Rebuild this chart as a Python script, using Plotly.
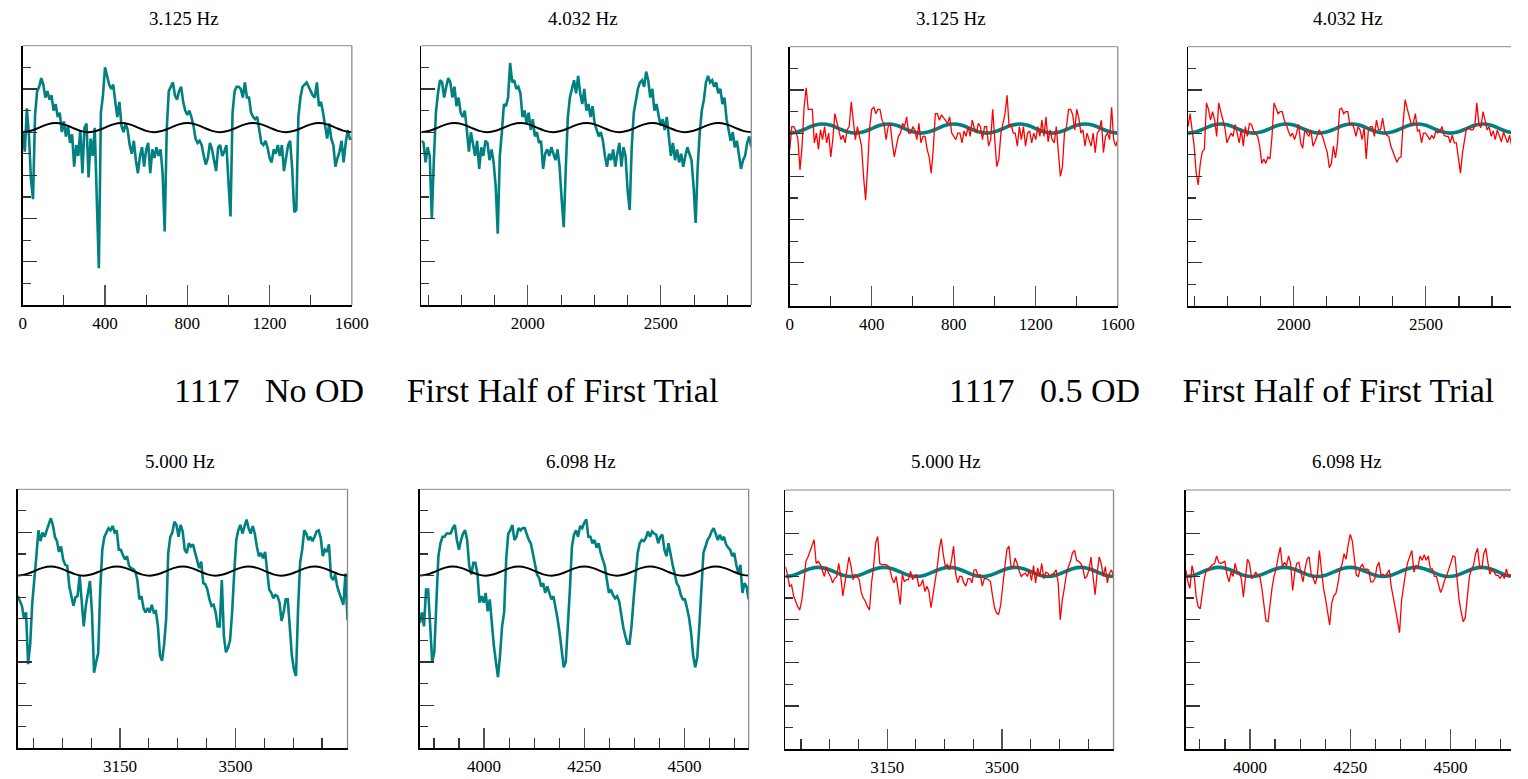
import numpy as np
import plotly.graph_objects as go

# ---------------------------------------------------------------------------
# Recording 1117, first half of first trial: response to flicker at four
# temporal frequencies, without (No OD) and with a 0.5 OD filter.
# Each segment is 5 stimulus cycles, sampled 32 times per cycle.
# ---------------------------------------------------------------------------
freq_labels = ["3.125 Hz", "4.032 Hz", "5.000 Hz", "6.098 Hz"]
segment_start_ms = [0, 1600, 2840, 3840]
period_ms = [320, 248, 200, 164]
samples_per_cycle = 32
n_cycles = 5

# stimulus modulation over one cycle (eighth-period steps)
stim_cycle = [0.0, 0.06, 0.21, 0.36, 0.42, 0.36, 0.21, 0.06]

# ---- No OD responses -------------------------------------------------------
no_od_3p125 = [
    0.0, -0.9, 1.1, -0.1, -2.2, -3.1, 0.8, 1.9, 2.1, 2.5, 2.2, 1.6, 1.9, 1.5, 1.7, 1.0,
    1.3, 0.7, 0.9, 0.0, 0.5, -0.2, 0.3, -0.5, -0.1, -1.6, -0.6, -1.1, 0.1, -1.9, 0.2, 0.4,
    -2.1, -0.3, -1.1, 0.2, -3.1, -6.3, 0.9, 1.7, 3.0, 2.6, 2.2, 2.0, 2.2, 1.4, 0.7, 1.4,
    0.3, 0.0, 0.4, 0.1, -0.6, -1.0, -0.4, -1.3, -1.9, -1.1, -0.7, -1.6, -0.8, -0.5, -1.9, -0.8,
    -1.2, -0.7, -1.1, -0.8, -1.9, -4.6, 0.1, 1.9, 2.1, 2.3, 1.7, 1.5, 1.9, 2.1, 1.4, 1.0,
    0.8, 1.0, 0.7, 0.3, -0.3, -0.5, -0.4, -0.6, -1.1, -1.5, -1.2, -0.5, -0.8, -1.4, -1.8, -0.7,
    -0.6, -1.1, -0.9, -0.6, -2.5, -3.9, 0.9, 1.9, 2.1, 2.1, 2.0, 1.6, 2.3, 1.6, 1.6, 0.9,
    0.7, 0.6, 0.7, 0.1, -0.5, -0.6, -0.4, -0.7, -1.2, -1.4, -0.8, -1.0, -0.6, -1.1, -0.6, -1.8,
    -1.1, -0.6, -0.4, -1.7, -3.7, -3.6, 0.7, 1.6, 2.1, 2.2, 2.3, 2.1, 1.9, 1.7, 1.6, 2.3,
    1.2, 1.4, 0.9, 0.2, -0.3, 0.4, -0.3, -0.6, -1.6, -1.2, -0.9, -0.4, -1.4, -0.5, 0.1, -0.3,
    -0.3,
]
no_od_4p032 = [
    -0.4, -0.5, -1.4, -0.7, -1.1, -4.0, -1.3, 0.9, 1.8, 2.4, 2.3, 1.6, 2.1, 2.5, 2.3, 1.6,
    2.1, 1.2, 1.6, 0.9, 0.7, 1.0, 0.1, -0.9, 0.0, -0.5, -1.1, -0.4, -1.7, -0.7, -1.1, -0.4,
    -0.5, -1.3, -0.8, -1.4, -2.5, -4.7, -1.1, 0.0, 1.3, 1.2, 1.6, 3.2, 2.3, 2.4, 2.0, 2.1,
    1.8, 0.7, 1.0, 0.4, 0.9, 0.1, 0.6, -0.2, 0.0, -0.5, -0.4, -1.7, -1.0, -0.8, -1.1, -0.7,
    -1.0, -1.3, -0.8, -1.6, -3.1, -4.4, -1.7, 0.7, 1.6, 2.0, 2.4, 1.8, 2.6, 1.8, 1.3, 2.0,
    1.0, 1.3, 0.7, 1.2, 0.4, 0.1, -0.2, 0.0, -0.4, -1.1, -1.6, -1.0, -1.3, -0.8, -1.6, -1.0,
    -0.5, -1.6, -0.7, -1.1, -2.7, -3.6, -0.7, 0.9, 1.5, 2.0, 2.3, 2.4, 2.1, 2.8, 2.4, 1.6,
    2.0, 1.0, 1.3, 0.7, 0.3, 0.6, 0.1, 0.7, -0.2, -1.1, -0.5, -1.3, -0.8, -1.4, -1.0, -1.6,
    -1.1, -0.7, -1.0, -1.3, -2.5, -4.2, -1.6, 0.0, 1.0, 1.5, 2.3, 2.6, 2.3, 2.4, 2.1, 2.3,
    1.8, 2.0, 1.3, 1.6, 0.6, 0.1, -0.4, 0.0, -0.7, -0.4, -1.1, -1.7, -1.3, -1.1, -0.5, -0.2,
    -0.7,
]
no_od_5p000 = [
    -0.95, -1.2, -1.4, -2.0, -1.7, -4.1, -3.2, -1.3, 0.0, 0.9, 2.1, 1.6, 2.0, 1.8, 2.1, 2.35,
    2.65, 2.35, 1.8, 1.6, 1.1, 1.35, 0.75, 0.5, 0.45, -0.5, -0.95, -1.4, -1.0, -0.95, 0.0, -1.1,
    -2.35, -1.4, -0.8, -0.25, -1.7, -4.5, -4.0, -3.6, -0.65, 1.2, 1.8, 2.0, 2.2, 2.1, 2.3, 2.0,
    2.1, 1.2, 1.2, 0.95, 0.75, 0.9, 0.45, 0.35, 0.3, 0.2, -0.2, -1.1, -0.95, -1.5, -1.7, -1.5,
    -1.7, -1.35, -1.7, -1.65, -2.35, -3.7, -3.95, -3.2, -2.0, 1.05, 1.8, 2.0, 2.5, 2.35, 1.8, 2.35,
    2.05, 1.2, 1.05, 1.5, 1.35, 1.45, 1.05, 0.65, 0.35, 0.65, -0.35, -0.4, -0.65, -1.1, -1.4, -1.35,
    -1.7, -2.35, -2.35, -0.2, -2.8, -3.55, -3.35, -3.0, -1.7, 0.1, 1.65, 2.1, 2.35, 1.95, 2.3, 2.6,
    2.2, 1.95, 2.3, 1.95, 1.35, 0.9, 1.05, 0.8, 1.1, 0.3, -0.65, -0.8, -1.05, -0.9, -0.95, -1.25,
    -2.1, -1.7, -1.1, -1.1, -2.2, -3.7, -4.35, -4.65, -1.55, 0.6, 1.2, 2.1, 1.95, 1.65, 1.8, 1.6,
    1.8, 2.05, 2.1, 1.75, 0.9, 1.2, 1.1, 1.45, -0.05, -0.2, 0.05, -0.5, -0.8, -1.05, -1.35, 0.1,
    -2.05,
]
no_od_6p098 = [
    -2.2, -1.7, -2.35, -0.65, -0.65, -2.65, -4.0, -3.55, -1.4, 0.9, 1.5, 1.8, 1.8, 1.95, 1.95, 1.95,
    2.2, 2.35, 1.65, 1.2, 1.65, 1.95, 2.1, 1.65, 0.45, 0.05, 0.6, 0.6, 0.1, -1.25, -0.95, -1.25,
    -0.8, -1.65, -1.1, -2.35, -3.25, -4.0, -4.7, -3.7, -2.35, -1.7, 0.75, 1.95, 2.1, 2.35, 1.65, 1.8,
    2.2, 2.1, 2.2, 2.2, 1.9, 1.65, 1.5, 0.95, 0.45, 0.05, -0.1, -0.5, -0.35, -0.8, -0.5, -0.8,
    -1.1, -0.95, -1.4, -2.0, -2.65, -3.4, -4.25, -4.0, -2.5, -0.65, 1.35, 1.9, 2.1, 1.8, 2.3, 2.2,
    2.45, 2.6, 1.8, 1.8, 1.5, 1.65, 1.3, 1.5, 1.05, 0.75, 0.45, -0.2, -0.8, -0.65, -0.9, -1.05,
    -0.95, -1.2, -1.9, -2.4, -2.8, -3.15, -3.15, -2.35, -1.1, -0.05, 1.05, 1.5, 1.65, 1.6, 1.75, 2.05,
    1.8, 2.05, 1.95, 1.9, 1.5, 1.8, 1.9, 1.2, 0.9, 1.5, 0.95, 0.5, 0.1, -0.35, -0.5, -0.9,
    -1.1, -1.1, -1.5, -1.95, -2.65, -3.7, -4.25, -3.8, -2.35, -0.8, 1.05, 1.35, 1.65, 1.8, 2.05, 2.2,
    1.95, 1.65, 1.9, 1.65, 1.8, 1.45, 1.3, 1.2, 0.9, 1.05, 0.5, 0.1, 0.5, -0.8, -0.35, -0.5,
    -1.1,
]

# ---- 0.5 OD responses ------------------------------------------------------
od05_3p125 = [
    -0.75, 0.3, 0.3, 0.1, -0.3, -1.7, -0.6, 1.2, 2.1, 1.1, 1.1, 1.1, -0.45, 0.0, -0.75, 0.15,
    -0.3, 0.3, -0.45, 0.0, -1.1, -0.3, 0.9, 0.45, 0.15, -0.3, -0.1, -0.45, 0.15, 0.3, 1.45, 0.6,
    -0.3, 0.3, -0.15, -0.6, -2.0, -3.1, -1.55, 0.3, 1.1, 1.2, 0.9, 1.1, 1.1, 0.6, 0.4, -0.3,
    0.3, 0.45, -0.45, -1.1, -0.6, -0.15, 0.0, 0.45, 0.3, 0.75, 0.0, 0.0, 0.3, 0.15, -0.3, 0.45,
    -0.45, -0.15, -0.15, -0.75, -1.1, -1.85, -0.75, 0.9, 0.9, 0.6, 0.85, 0.7, 0.55, 0.45, 0.75, 0.0,
    -0.15, -0.3, 0.0, 0.0, -0.45, 0.1, -0.15, 0.3, -0.15, 0.6, 0.25, 0.0, 0.45, 0.3, -0.3, 0.3,
    0.3, -0.6, -0.3, 1.1, -0.3, -1.55, -1.2, 0.0, 0.45, 0.9, 1.75, 0.3, 0.4, 0.0, 0.0, -0.6,
    0.3, -0.3, 0.3, -0.6, 0.0, 0.1, -0.45, 0.0, -0.3, 0.3, -0.15, 0.6, -0.15, 0.75, -0.4, 0.15,
    -0.3, -0.45, 0.3, -0.9, -2.0, -1.55, 0.0, 0.3, 1.1, 1.1, 0.85, 0.15, 1.1, 0.7, 0.0, 0.15,
    -0.6, 0.0, -0.3, -0.6, 0.0, -0.9, 0.0, 0.15, 0.6, -0.9, -0.15, 0.0, -0.3, 1.2, -0.3, -0.6,
    -0.3,
]
od05_4p032 = [
    0.3, 0.9, 0.15, -0.6, -1.85, -2.4, -1.4, -0.85, -0.75, 1.4, 1.1, 0.6, 1.0, 0.6, -0.15, 1.4,
    1.0, 0.6, 0.25, -0.45, -0.25, 0.0, -0.15, 0.4, 0.0, -0.45, 0.15, -0.6, 0.3, -0.15, 0.45, 0.4,
    0.1, 0.0, -0.15, -0.6, -1.4, -1.2, -1.4, -1.1, -1.2, -0.15, 1.4, 1.15, 0.9, 1.0, 1.0, 0.6,
    0.4, 0.1, -0.15, 0.0, -0.3, 0.0, 0.4, -0.45, -0.7, 0.15, 0.0, -0.15, 0.15, -0.6, -0.4, -0.1,
    0.15, 0.0, -0.25, -0.6, -0.9, -1.6, -1.4, -0.6, -1.15, -0.45, 1.1, 1.15, 0.9, 1.0, 1.0, 0.4,
    0.45, 0.25, -0.15, 0.3, 0.15, -0.3, 0.25, -1.2, 0.1, 0.3, 0.3, -0.15, 0.6, 0.15, 0.15, 0.7,
    0.1, -0.1, -0.15, -0.6, -0.85, -1.1, -1.35, -1.15, -1.1, 0.45, 1.55, 1.15, 0.75, 0.4, 0.45, 0.9,
    0.1, 0.15, -0.45, 0.0, 0.0, -0.15, -0.3, -0.1, -0.25, 0.1, 0.0, 0.1, 0.3, -0.1, -0.15, -0.15,
    -0.45, -0.1, -0.45, -0.45, -1.2, -1.85, -0.9, -0.25, 0.25, 0.25, 0.15, 0.15, 0.3, 1.4, 0.4, 0.25,
    1.0, 0.6, 0.15, 0.3, -0.15, 0.1, -0.3, 0.15, -0.1, -0.4, 0.05, -0.2, -0.45, -0.1, -0.6, -0.3,
    -0.15,
]
od05_5p000 = [
    0.45, 0.1, -0.45, -0.4, -0.9, -1.15, -1.4, -1.55, -1.1, -0.3, 0.7, 0.9, 1.15, 1.45, 1.7, 0.6,
    0.7, 0.55, 0.25, 0.0, 0.45, 0.15, 0.0, -0.3, -0.1, 0.0, 0.6, 0.0, -0.9, -0.25, 0.3, 0.9,
    0.45, -0.15, 0.1, 0.0, -0.15, -0.75, -1.0, -1.15, -1.4, -1.55, -0.3, 0.45, 1.55, 1.85, 0.6, 0.55,
    0.55, 0.55, 0.5, 0.3, -0.1, -0.3, 0.0, -0.6, -1.3, 0.1, -0.25, -0.15, -0.15, 0.25, -0.15, 0.0,
    0.1, -0.45, -0.4, -0.15, -0.7, -0.45, -0.7, -1.45, -0.9, -0.15, 0.4, 1.25, 1.75, 1.0, 0.45, 0.55,
    0.3, 0.75, 1.4, 0.15, -0.3, 0.0, 0.0, -0.3, -0.45, -0.1, -0.1, -0.3, 0.3, 0.3, 0.0, 0.1,
    -0.45, -0.1, -0.1, -0.15, -0.25, -0.9, -1.45, -1.7, -1.75, -1.3, -0.3, 0.45, 1.25, 1.4, 0.45, 0.4,
    0.85, 0.6, 0.25, 0.0, 0.1, 0.15, 0.0, 0.3, -0.2, 0.5, -0.3, 0.4, 0.0, 0.6, -0.1, 0.2,
    0.15, 0.0, 0.1, 0.15, 0.3, -0.3, -2.0, -1.1, -0.55, 0.1, 0.45, 0.7, 1.1, 1.2, 0.75, 0.7,
    0.6, 0.4, -0.1, 0.0, 0.3, 0.9, 0.0, -0.85, 0.15, 0.9, 0.6, 0.0, 0.45, -0.3, 0.15, 0.3,
    0.0,
]
od05_6p098 = [
    0.3, -0.25, -0.55, 0.5, 0.1, -0.9, -1.4, -1.5, -0.8, -0.1, 0.3, 0.3, 0.45, 0.55, 0.6, 0.95,
    0.65, 0.6, 0.65, 0.7, 0.1, -0.25, 0.2, 0.0, 0.6, 0.2, 0.2, -0.1, -0.95, 0.05, 0.8, 0.6,
    -0.1, 0.0, 0.2, 0.05, 0.0, -0.55, -1.25, -2.05, -2.1, -1.2, -0.5, 0.05, 0.35, 0.95, 1.35, 0.45,
    0.65, 0.5, 0.95, 0.6, -0.65, 0.2, 0.6, 0.65, 0.2, -0.25, 0.35, 0.8, 0.9, 0.1, -0.1, -0.35,
    0.05, 1.2, 0.3, -0.55, -1.05, -1.7, -2.25, -1.25, -0.9, -0.8, -0.35, 0.3, 0.55, 1.05, 0.8, 1.45,
    1.95, 1.65, 0.8, 0.05, 0.0, 0.45, 0.55, 0.3, 0.35, 0.3, -0.25, -0.25, -0.1, 0.45, 0.65, 0.05,
    0.1, 0.0, 0.15, 0.3, -0.5, -0.95, -1.5, -2.05, -2.6, -1.1, -0.35, 0.2, 0.65, 0.9, 1.2, 0.2,
    0.5, 0.45, 0.95, 0.75, 1.0, 0.75, 0.95, 0.35, 0.35, 0.0, 0.0, -0.4, -0.75, -0.5, -0.15, 0.05,
    0.35, 0.6, 0.95, 0.9, -0.2, -1.1, -1.65, -2.1, -1.9, -0.8, 0.0, 0.35, 0.5, 1.05, 1.3, 0.45,
    0.35, 1.05, 1.3, 0.65, 0.1, 0.35, 0.2, 0.05, 0.05, -0.1, 0.1, -0.1, 0.35, 0.0, 0.05, 0.0,
    0.1,
]

# ---------------------------------------------------------------------------
# Layout helpers (pixel geometry of a 1528 x 779 page)
# ---------------------------------------------------------------------------
W, H = 1528, 779
SERIF = "Liberation Serif, Times New Roman, serif"
TEAL = "#008080"
RED = "#ff0000"


def px_x(v):
    return v / W


def px_y(v):
    return 1 - v / H


# (condition, freq index, x-left px, x-right px, y-top px, y-bottom px,
#  visible range end, title centre x px, title centre y px)
panels = [
    ("none", 0, 19.0, 352.7, 45.7, 305.0, None, 183, 18),
    ("none", 1, 423.3, 757.7, 45.7, 305.0, None, 587, 18),
    ("od", 0, 796.7, 1129.3, 46.7, 306.0, None, 960, 18),
    ("od", 1, 1200.5, 1528.0, 46.7, 306.0, 2822, 1363, 18),
    ("none", 2, 14.0, 348.3, 489.3, 748.3, None, 178, 461.5),
    ("none", 3, 421.7, 755.0, 489.3, 748.3, None, 585, 461.5),
    ("od", 2, 792.3, 1125.0, 490.0, 749.3, None, 955, 461.5),
    ("od", 3, 1198.3, 1528.0, 490.0, 749.3, 4651, 1362, 461.5),
]
major_dtick = [400, 500, 350, 250]
minor_dtick = [200, 125, 87.5, 62.5]

responses = {
    ("none", 0): no_od_3p125,
    ("none", 1): no_od_4p032,
    ("none", 2): no_od_5p000,
    ("none", 3): no_od_6p098,
    ("od", 0): od05_3p125,
    ("od", 1): od05_4p032,
    ("od", 2): od05_5p000,
    ("od", 3): od05_6p098,
}

fig = go.Figure()
layout_axes = {}
shapes = []
annotations = []

for k, (cond, f, xl, xr, yt, yb, clip_end, tx, ty) in enumerate(panels):
    n = k + 1
    xa = "x" if n == 1 else f"x{n}"
    ya = "y" if n == 1 else f"y{n}"
    xkey = "xaxis" if n == 1 else f"xaxis{n}"
    ykey = "yaxis" if n == 1 else f"yaxis{n}"

    t0 = segment_start_ms[f]
    per = period_ms[f]
    t_end = t0 + n_cycles * per

    # response sampled 32 times per cycle
    resp = responses[(cond, f)]
    t_resp = t0 + (per / samples_per_cycle) * np.arange(len(resp))

    # stimulus: one cycle profile repeated over the segment
    stim = stim_cycle * n_cycles + [stim_cycle[0]]
    t_stim = t0 + (per / len(stim_cycle)) * np.arange(len(stim))

    if cond == "none":
        fig.add_trace(go.Scatter(x=t_resp, y=resp, xaxis=xa, yaxis=ya, mode="lines",
                                 line=dict(color=TEAL, width=2.6), hoverinfo="skip"))
        fig.add_trace(go.Scatter(x=t_stim, y=stim, xaxis=xa, yaxis=ya, mode="lines",
                                 line=dict(color="black", width=2, shape="spline"),
                                 hoverinfo="skip"))
    else:
        fig.add_trace(go.Scatter(x=t_stim, y=stim, xaxis=xa, yaxis=ya, mode="lines",
                                 line=dict(color=TEAL, width=3.6, shape="spline"),
                                 hoverinfo="skip"))
        fig.add_trace(go.Scatter(x=t_resp, y=resp, xaxis=xa, yaxis=ya, mode="lines",
                                 line=dict(color=RED, width=1.3), hoverinfo="skip"))

    x_range_end = clip_end if clip_end is not None else t_end
    layout_axes[xkey] = dict(
        domain=[px_x(xl), px_x(xr)], anchor=ya, range=[t0, x_range_end],
        showgrid=False, zeroline=False, showline=True, linecolor="black", linewidth=1.5,
        ticks="inside", ticklen=20, tickwidth=1.2, tickcolor="#555",
        tickmode="linear", tick0=0, dtick=major_dtick[f],
        minor=dict(ticks="inside", ticklen=10, tickwidth=1.2, tickcolor="#333",
                   tick0=0, dtick=minor_dtick[f]),
        tickfont=dict(family=SERIF, size=17, color="black"),
        ticklabelstandoff=2, fixedrange=True,
    )
    layout_axes[ykey] = dict(
        domain=[px_y(yb), px_y(yt)], anchor=xa, range=[-8, 4],
        showgrid=False, zeroline=False, showline=True, linecolor="black", linewidth=1.5,
        ticks="inside", ticklen=14, tickwidth=1.2, tickcolor="#333",
        tickmode="linear", tick0=0, dtick=2, showticklabels=False,
        minor=dict(ticks="inside", ticklen=8, tickwidth=1.2, tickcolor="#333",
                   tick0=0, dtick=1),
        fixedrange=True,
    )

    # light frame on the top and right sides
    shapes.append(dict(type="line", xref=f"{xa} domain", yref=f"{ya} domain",
                       x0=0, x1=1, y0=1, y1=1, line=dict(color="#8a8a8a", width=1)))
    if clip_end is None:
        shapes.append(dict(type="line", xref=f"{xa} domain", yref=f"{ya} domain",
                           x0=1, x1=1, y0=0, y1=1, line=dict(color="#8a8a8a", width=1.3)))

    annotations.append(dict(text=freq_labels[f], xref="paper", yref="paper",
                            x=px_x(tx), y=px_y(ty), xanchor="center", yanchor="middle",
                            showarrow=False, font=dict(family=SERIF, size=19, color="black")))

gap3 = "\u00a0" * 3
gap5 = "\u00a0" * 5
headings = [
    ("1117" + gap3 + "No OD" + gap5 + "First Half of First Trial", 448.5),
    ("1117" + gap3 + "0.5 OD" + gap5 + "First Half of First Trial", 1234),
]
for text, cx in headings:
    annotations.append(dict(text=text, xref="paper", yref="paper",
                            x=px_x(cx), y=px_y(391), xanchor="center", yanchor="middle",
                            showarrow=False, font=dict(family=SERIF, size=34, color="black")))

fig.update_layout(
    width=W, height=H, autosize=False,
    margin=dict(l=0, r=0, t=0, b=0),
    paper_bgcolor="white", plot_bgcolor="white",
    showlegend=False,
    shapes=shapes, annotations=annotations,
    **layout_axes,
)

fig.write_html("out.html", config={"displayModeBar": False, "staticPlot": True})
